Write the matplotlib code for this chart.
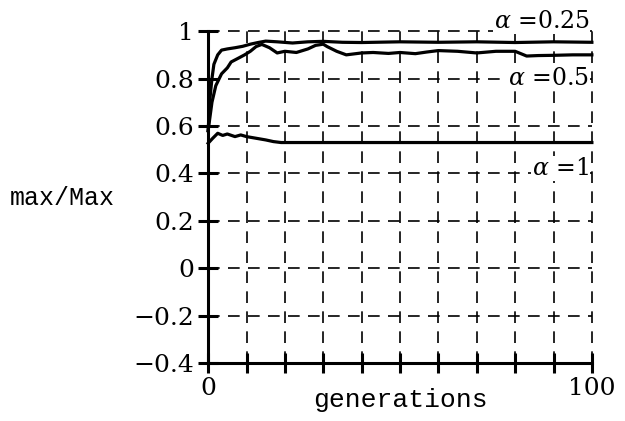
import numpy as np
import matplotlib
matplotlib.use("Agg")
import matplotlib.pyplot as plt

# ---------------- data ----------------

gen_a025 = [0, 0.5, 1, 1.5, 2.5, 3.5, 5, 7, 9, 11, 13, 15, 18, 22, 26, 30,
            35, 40, 50, 60, 70, 80, 90, 100]
val_a025 = [0.58, 0.72, 0.80, 0.86, 0.90, 0.92, 0.925, 0.93, 0.936, 0.945,
            0.952, 0.958, 0.955, 0.95, 0.955, 0.957, 0.953, 0.952, 0.955,
            0.953, 0.955, 0.952, 0.955, 0.953]

gen_a05 = [0, 0.5, 1, 2, 3.5, 5, 6, 8, 9.5, 11, 12.5, 14, 16, 18, 20, 23,
           26, 28, 30, 31, 33.5, 36, 40, 43, 47, 50, 54, 57, 60, 65, 70, 75,
           80, 83, 86, 90, 95, 100]
val_a05 = [0.58, 0.64, 0.70, 0.77, 0.82, 0.845, 0.87, 0.887, 0.90, 0.915,
           0.935, 0.944, 0.93, 0.908, 0.915, 0.91, 0.925, 0.94, 0.945, 0.935,
           0.915, 0.90, 0.908, 0.91, 0.906, 0.91, 0.905, 0.912, 0.918, 0.915,
           0.908, 0.915, 0.915, 0.895, 0.897, 0.898, 0.90, 0.90]

gen_a1 = [0, 1.2, 2.5, 3.8, 5, 7, 8.5, 10, 12.5, 15, 17, 19, 25, 40, 60, 80, 100]
val_a1 = [0.527, 0.548, 0.569, 0.56, 0.566, 0.555, 0.562, 0.555, 0.548,
          0.541, 0.534, 0.53, 0.53, 0.53, 0.53, 0.53, 0.53]

labels = [r"$\alpha$ =0.25", r"$\alpha$ =0.5", r"$\alpha$ =1"]
label_y = [1.04, 0.80, 0.42]

y_ticks = [-0.4, -0.2, 0, 0.2, 0.4, 0.6, 0.8, 1]
y_ticklabels = ["\u22120.4", "\u22120.2", "0", "0.2", "0.4", "0.6", "0.8", "1"]
x_ticks = list(range(0, 101, 10))

# ---------------- plot ----------------

plt.rcParams["mathtext.fontset"] = "dejavuserif"
plt.rcParams["font.family"] = "DejaVu Serif"

fig = plt.figure(figsize=(6.25, 4.21), dpi=100)
ax = fig.add_axes([0.333, 0.138, 0.614, 0.788])

# dashed grid (edges at x=100 / y=1 are dashed too, no frame there)
dash = (0, (7, 5))
for yv in y_ticks[1:]:
    ax.plot([0, 100], [yv, yv], color="black", lw=1.2, linestyle=dash,
            zorder=1, clip_on=False)
for xv in x_ticks[1:]:
    ax.plot([xv, xv], [-0.4, 1], color="black", lw=1.2, linestyle=dash,
            zorder=1, clip_on=False)

for g, v in [(gen_a025, val_a025), (gen_a05, val_a05), (gen_a1, val_a1)]:
    ax.plot(g, v, color="black", lw=2.3, zorder=3, clip_on=False)

for lab, yy in zip(labels, label_y):
    ax.text(99.3, yy, lab, ha="right", va="center", fontsize=17,
            bbox=dict(facecolor="white", edgecolor="none", pad=0.5), zorder=4)

ax.set_xlim(0, 100)
ax.set_ylim(-0.4, 1)
for s in ["top", "right"]:
    ax.spines[s].set_visible(False)
for s in ["left", "bottom"]:
    ax.spines[s].set_linewidth(2.2)

ax.set_yticks(y_ticks)
ax.set_yticklabels(y_ticklabels, fontsize=18)
ax.set_xticks(x_ticks)
ax.set_xticklabels(["0"] + [""] * 9 + ["100"], fontsize=18)
ax.tick_params(direction="inout", length=14, width=2.2, pad=3)

fig.text(0.10, 0.53, "max/Max", fontsize=18, family="Liberation Mono",
         ha="center", va="center")
fig.text(0.64, 0.05, "generations", fontsize=19, family="Liberation Mono",
         ha="center", va="center")

fig.savefig("out.png", dpi=100)
